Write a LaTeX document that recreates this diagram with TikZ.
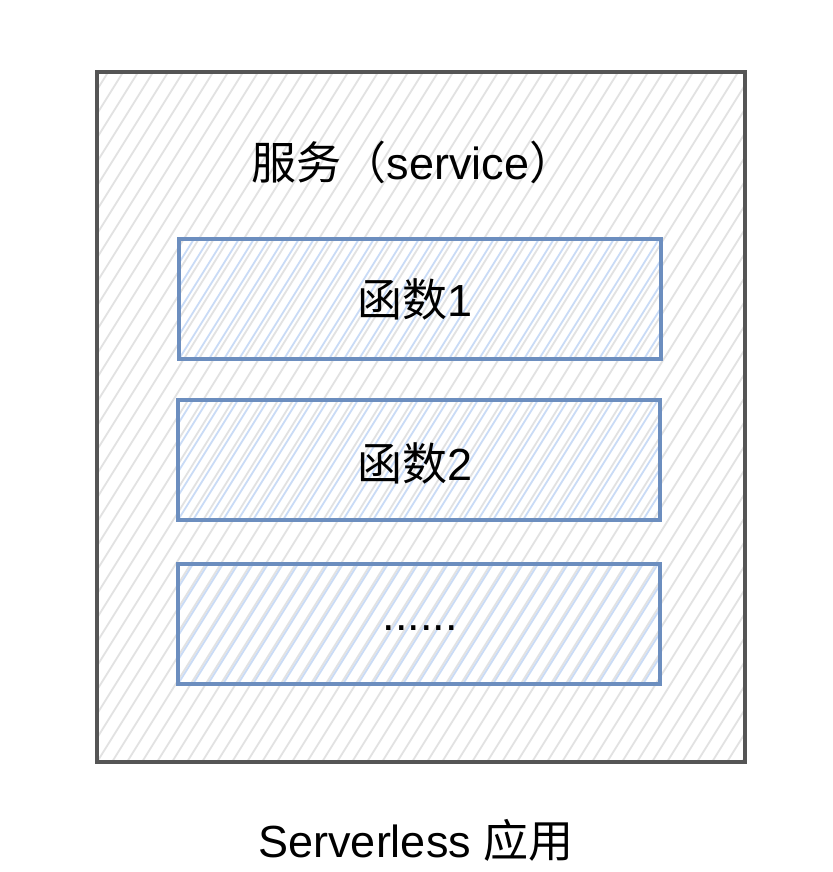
\documentclass[tikz,border=0pt]{standalone}
\usepackage{fontspec}
\setmainfont{Liberation Sans}
\newfontfamily\cjk{Noto Sans CJK SC}
\usetikzlibrary{positioning,calc}

\definecolor{outerline}{HTML}{555555}
\definecolor{outerhatch}{HTML}{E2E2E2}
\definecolor{funcline}{HTML}{6C8EBF}
\definecolor{funchatch}{HTML}{C9DBF6}

\tikzset{
    hatch/.style={
        path picture={
            \foreach \i in {-60,...,60}
                \draw[#1, line width=1.8pt]
                    ($(path picture bounding box.south west)+(\i*15pt,0)$) -- ++(58:1100pt);
        }
    },
    appbox/.style={draw=outerline, line width=3.4pt, hatch=outerhatch,
        minimum width=648pt, minimum height=690pt, inner sep=0pt},
    funcbox/.style={draw=funcline, line width=3.4pt, hatch=funchatch,
        minimum width=482pt, minimum height=120pt, inner sep=0pt},
    label/.style={font=\fontsize{45}{50}\selectfont}
}

\begin{document}
\begin{tikzpicture}[x=1pt, y=-1pt]
    \useasboundingbox[fill=white] (0,0) rectangle (832,872);

    % Serverless app (outer box)
    \node[appbox] (app) at (421,417) {};
    \node[label] (service) at (413,162) {{\cjk 服务（}service{\cjk ）}};

    % Functions
    \node[funcbox] (f1) at (420,299) {};
    \node[funcbox] (f2) at (419,460) {};
    \node[funcbox] (f3) at (419,624) {};

    \node[label] (f1text) at ($(f1)+(-5,0)$) {{\cjk 函数}1};
    \node[label] (f2text) at ($(f2)+(-4,3)$) {{\cjk 函数}2};
    \node[label] (f3text) at ($(f3)+(1,4)$) {......};

    % Caption
    \node[label, below=52pt of app.south, xshift=-5pt] (caption) {Serverless {\cjk 应用}};

\end{tikzpicture}
\end{document}
